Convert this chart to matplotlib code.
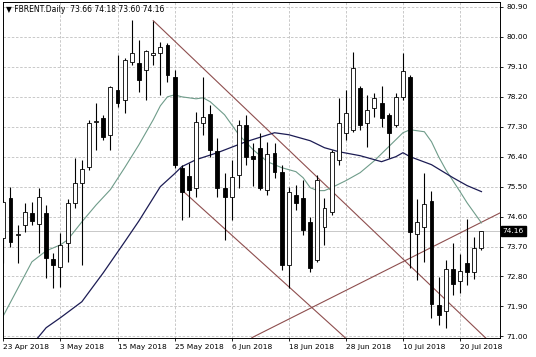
import matplotlib
matplotlib.use('Agg')
import matplotlib.pyplot as plt
import numpy as np

plt.rcParams['font.family'] = ['DejaVu Sans']

# daily OHLC, one row per trading day (23 Apr 2018 .. 25 Jul 2018)
opens = [73.96, 75.17, 74.05, 74.35, 74.71, 74.38, 74.71, 73.33, 73.09, 73.81,
         75.01, 75.62, 76.10, 77.43, 77.57, 77.06, 78.41, 78.11, 79.25, 79.22,
         79.01, 79.46, 79.52, 79.76, 78.80, 76.07, 75.83, 75.47, 77.42, 77.69,
         76.58, 75.47, 75.20, 75.86, 77.36, 76.43, 76.67, 75.41, 76.52, 75.95,
         73.15, 75.26, 75.17, 74.44, 73.30, 74.29, 74.74, 76.31, 77.12, 77.21,
         78.47, 77.42, 77.87, 78.02, 77.66, 77.36, 78.20, 78.80, 74.08, 74.29,
         75.08, 71.95, 71.77, 73.03, 72.67, 73.21, 72.94, 73.66]
highs = [75.11, 75.50, 74.35, 75.01, 75.05, 75.47, 74.95, 73.51, 74.11, 75.14,
         76.37, 76.31, 77.51, 78.02, 77.66, 78.53, 79.46, 79.37, 80.51, 79.91,
         79.61, 80.48, 79.85, 79.82, 79.01, 76.16, 76.22, 77.75, 78.80, 77.96,
         76.97, 75.92, 76.31, 77.51, 77.66, 76.82, 77.12, 76.85, 76.82, 76.16,
         75.50, 75.56, 75.71, 74.59, 75.86, 75.17, 76.61, 78.17, 78.41, 79.55,
         78.53, 78.26, 78.32, 78.53, 77.72, 78.32, 79.52, 78.86, 75.14, 75.92,
         75.38, 72.79, 73.30, 73.81, 73.48, 74.53, 73.99, 74.18]
lows = [73.21, 73.69, 73.21, 74.14, 74.35, 73.51, 72.76, 72.46, 72.49, 73.24,
        74.86, 73.15, 76.01, 76.61, 76.91, 76.61, 77.90, 77.72, 79.16, 78.35,
        78.11, 79.16, 78.26, 78.65, 76.07, 74.50, 74.59, 75.20, 77.06, 76.40,
        75.20, 73.90, 74.50, 75.47, 76.16, 75.53, 75.41, 75.26, 75.77, 73.00,
        72.46, 74.80, 74.05, 72.94, 73.24, 73.75, 74.65, 76.16, 76.91, 77.15,
        77.21, 76.70, 77.60, 77.30, 76.37, 77.30, 78.11, 73.06, 72.70, 73.24,
        71.56, 71.35, 71.26, 72.25, 72.31, 72.55, 72.73, 73.60]
closes = [75.05, 73.84, 74.07, 74.74, 74.47, 75.20, 73.36, 73.15, 73.75, 75.01,
          75.62, 76.04, 77.42, 77.48, 77.00, 78.50, 78.02, 79.31, 79.52, 78.71,
          79.58, 79.52, 79.70, 78.86, 76.16, 75.35, 75.41, 77.45, 77.60, 76.61,
          75.47, 75.20, 75.80, 77.36, 76.40, 76.34, 75.47, 76.49, 75.95, 73.15,
          75.35, 75.01, 74.20, 73.06, 75.71, 74.86, 76.55, 77.42, 77.72, 79.07,
          77.36, 77.81, 78.17, 77.57, 77.12, 78.20, 78.98, 74.14, 74.44, 74.98,
          71.98, 71.65, 73.03, 72.58, 72.97, 72.94, 73.66, 74.16]

# moving averages (bar index, price)
fast_ma_idx = [0, 2, 4, 6, 8, 9, 11, 13, 15, 17, 19, 21, 22, 23, 24, 25, 27, 28, 29,
               31, 33, 35, 37, 39, 41, 42, 43, 44, 45, 46, 48, 49, 50, 52, 54, 56,
               57, 58, 59, 60, 61, 62, 63, 64, 65, 66, 67]
fast_ma = [71.62, 72.43, 73.24, 73.57, 73.75, 73.90, 74.44, 74.95, 75.41, 76.07,
           76.76, 77.51, 77.93, 78.20, 78.26, 78.20, 78.14, 78.17, 78.05, 77.66,
           77.06, 76.61, 76.25, 76.07, 75.95, 75.77, 75.47, 75.38, 75.38, 75.47,
           75.68, 75.80, 75.92, 76.28, 76.70, 77.12, 77.21, 77.18, 77.15, 76.85,
           76.40, 76.01, 75.68, 75.35, 75.01, 74.71, 74.41]
slow_ma_idx = [4, 5, 6, 8, 11, 14, 17, 19, 22, 24, 25, 27, 30, 34, 38, 40, 43, 45,
               47, 50, 52, 53, 55, 56, 57, 60, 63, 65, 67]
slow_ma = [70.75, 71.00, 71.26, 71.56, 72.04, 72.91, 73.84, 74.47, 75.50, 75.89,
           76.10, 76.31, 76.52, 76.85, 77.12, 77.06, 76.88, 76.67, 76.55, 76.43,
           76.31, 76.25, 76.40, 76.52, 76.40, 76.16, 75.77, 75.53, 75.35]

# hand drawn trend lines: (start index, start price, end index, end price)
trend_lines = [(21, 80.49, 69.6, 70.54),
               (25, 75.40, 47.9, 70.96),
               (34.83, 70.96, 69.6, 74.71)]

date_ticks = [0, 8, 16, 24, 32, 40, 48, 56, 64]
date_labels = ['23 Apr 2018', '3 May 2018', '15 May 2018', '25 May 2018',
               '6 Jun 2018', '18 Jun 2018', '28 Jun 2018', '10 Jul 2018',
               '20 Jul 2018']
price_ticks = [71.00, 71.90, 72.80, 73.70, 74.60, 75.50, 76.40, 77.30,
               78.20, 79.10, 80.00, 80.90]
last_price = 74.16

fig = plt.figure(figsize=(5.36, 3.57), dpi=100)
ax = fig.add_axes([3 / 536, 1 - 338 / 357, 497 / 536, 336 / 357])

# grid
for t in price_ticks:
    ax.axhline(t, color='#c0c0c0', lw=0.6, ls=(0, (3, 2)), zorder=0)
for t in date_ticks:
    ax.axvline(t, color='#c0c0c0', lw=0.6, ls=(0, (3, 2)), zorder=0)

# bid line
ax.axhline(last_price, color='#c8c8c8', lw=0.7, zorder=1)

# trend lines
for x0, y0, x1, y1 in trend_lines:
    ax.plot([x0, x1], [y0, y1], color='#8e4e4e', lw=0.8, zorder=2)

# moving averages
ax.plot(fast_ma_idx, fast_ma, color='#6f9c8a', lw=0.8, zorder=2)
ax.plot(slow_ma_idx, slow_ma, color='#1c1c54', lw=0.9, zorder=2)

# candles
idx = np.arange(len(opens))
ax.vlines(idx, lows, highs, color='black', lw=0.8, zorder=3)
for i, o, c in zip(idx, opens, closes):
    bottom = min(o, c)
    height = max(abs(c - o), 0.012)
    face = 'white' if c >= o else 'black'
    ax.bar(i, height, bottom=bottom, width=0.55, color=face,
           edgecolor='black', lw=0.6, zorder=4)

ax.set_xlim(-0.05, 69.6)
ax.set_ylim(70.95, 81.05)

ax.yaxis.tick_right()
ax.set_yticks(price_ticks)
ax.set_yticklabels([f'{t:.2f}' for t in price_ticks])
ax.set_xticks(date_ticks)
ax.set_xticklabels(date_labels)
for lab in ax.get_xticklabels():
    lab.set_horizontalalignment('left')
ax.tick_params(axis='both', labelsize=5.4, length=2.5, width=0.6, color='black',
               pad=2)
for s in ax.spines.values():
    s.set_color('black')
    s.set_linewidth(0.7)

# current price tag
ax.annotate(f'{last_price:.2f}', xy=(1.0, last_price),
            xycoords=('axes fraction', 'data'), xytext=(2, 0),
            textcoords='offset points', va='center', ha='left', fontsize=5.4,
            color='white',
            bbox=dict(boxstyle='square,pad=0.25', fc='black', ec='black'))

fig.text(6 / 536, 1 - 9 / 357, '\u25bc FBRENT.Daily  73.66 74.18 73.60 74.16',
         fontsize=5.5, va='center', ha='left')

fig.savefig('out.png', dpi=100, facecolor='white')
